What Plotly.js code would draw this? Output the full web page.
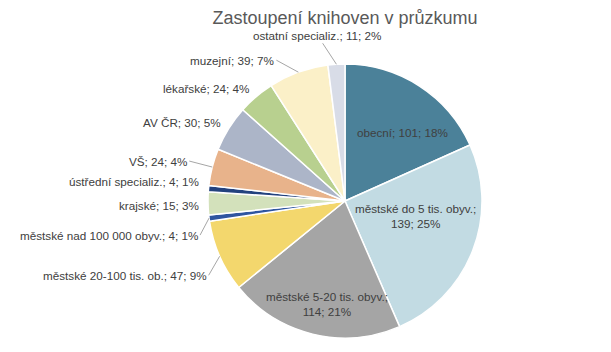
<!DOCTYPE html>
<html>
<head>
<meta charset="utf-8">
<script src="https://cdn.plot.ly/plotly-3.0.1.min.js"></script>
<style>html,body{margin:0;padding:0;background:#fff}#chart{width:611px;height:352px}</style>
</head>
<body>
<div id="chart"></div>
<script>
// ---- data ----
const categories = ["obecní","městské do 5 tis. obyv.","městské 5-20 tis. obyv.","městské 20-100 tis. ob.","městské nad 100 000 obyv.","krajské","ústřední specializ.","VŠ","AV ČR","lékařské","muzejní","ostatní specializ."];
const values = [101,139,114,47,4,15,4,24,30,24,39,11];
const colors = ["#4b8199","#c2dbe3","#a5a5a5","#f3d76d","#2f55a0","#d3e1bb","#23427e","#e8b38b","#acb5c8","#b8d08f","#fbf0c8","#d8dce7"];

// ---- label placement styling (not data) ----
const W = 611, H = 352;
const CX = 345, CY = 201, R = 137;
// per-label: inside?, anchor radius fraction, text offset (px) from anchor, leader line visible, break line
const labelStyle = [
  {inside:true,  rf:0.6, dx:13, dy:0,   line:false, br:false},
  {inside:true,  rf:0.6, dx:-6, dy:-15, line:false, br:true},
  {inside:true,  rf:0.6, dx:1,  dy:23,  line:false, br:true},
  {inside:false, rf:1.0, dx:-11, dy:19, line:true},
  {inside:false, rf:1.0, dx:-9, dy:17,  line:true},
  {inside:false, rf:1.0, dx:-7, dy:2,   line:false},
  {inside:false, rf:1.0, dx:-8, dy:-7,  line:false},
  {inside:false, rf:1.0, dx:-23, dy:-6, line:true},
  {inside:false, rf:1.0, dx:-6, dy:-6,  line:false},
  {inside:false, rf:1.0, dx:-5, dy:-8,  line:false},
  {inside:false, rf:1.0, dx:-22, dy:-12, line:true},
  {inside:false, rf:1.0, dx:-19, dy:-29, line:true, center:true}
];

const total = values.reduce((a,b)=>a+b,0);
const font = {family:"Liberation Sans, Arial, sans-serif", size:11.7, color:"#404040"};
const annotations = [];
let cum = 0;
values.forEach((v,i)=>{
  const mid = (cum + v/2)/total*2*Math.PI; // clockwise from 12 o'clock
  cum += v;
  const s = labelStyle[i];
  const px = CX + s.rf*R*Math.sin(mid);
  const py = CY - s.rf*R*Math.cos(mid);
  const pct = Math.round(v/total*100)+"%";
  const txt = s.br ? categories[i]+";<br>"+v+"; "+pct : categories[i]+"; "+v+"; "+pct;
  if (s.inside) {
    annotations.push({xref:"paper", yref:"paper", x:px/W, y:1-py/H, text:txt, showarrow:false,
      xanchor:"center", yanchor:"middle", xshift:s.dx, yshift:-s.dy, font:font, align:"center"});
  } else {
    annotations.push({xref:"paper", yref:"paper", x:px/W, y:1-py/H, text:txt, showarrow:true,
      ax:s.dx, ay:s.dy, axref:"pixel", ayref:"pixel", arrowhead:0, arrowwidth:1,
      arrowcolor: s.line ? "#a6a6a6" : "rgba(0,0,0,0)", standoff:0,
      xanchor: s.center ? "center" : "right", yanchor:"middle", font:font});
  }
});

const trace = {
  type:"pie",
  labels: categories,
  values: values,
  textinfo: "none",
  hoverinfo: "none",
  sort: false,
  direction: "clockwise",
  rotation: 0,
  marker: {colors: colors, line: {color:"#ffffff", width:1.5}},
  domain: {x:[(CX-R)/W,(CX+R)/W], y:[(H-CY-R)/H,(H-CY+R)/H]},
  automargin: false
};
const layout = {
  width:W, height:H,
  margin:{l:0,r:0,t:0,b:0},
  showlegend:false,
  paper_bgcolor:"#fff",
  annotations: annotations,
  title:{text:"Zastoupení knihoven v průzkumu", x:345/W, xanchor:"center", y:1-18/H, yanchor:"middle",
    font:{family:"Liberation Sans, Arial, sans-serif", size:18, color:"#595959"}}
};
Plotly.newPlot("chart",[trace],layout,{displayModeBar:false,staticPlot:true});
</script>
</body>
</html>
